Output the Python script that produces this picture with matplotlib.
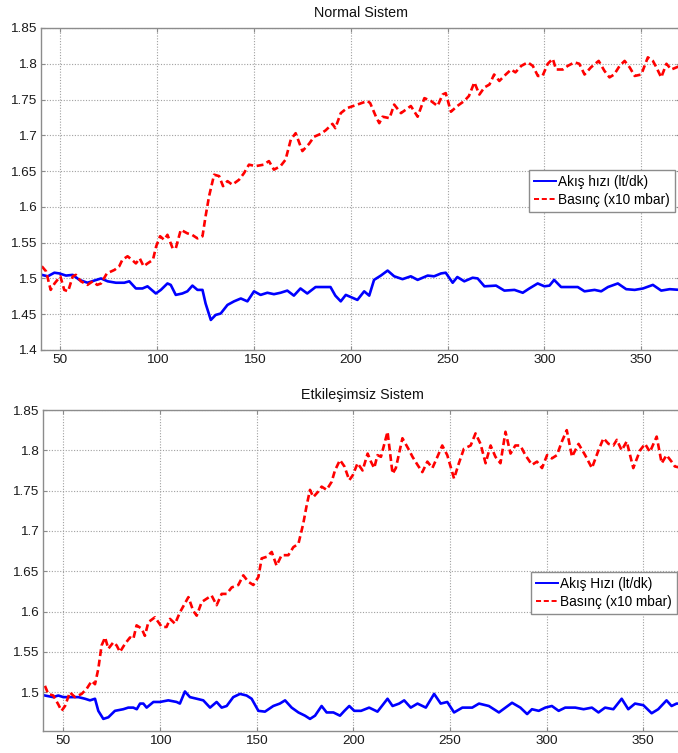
import matplotlib
matplotlib.use("Agg")
import matplotlib.pyplot as plt
from matplotlib.ticker import MultipleLocator, FuncFormatter

plt.rcParams['font.family'] = ['Liberation Sans', 'DejaVu Sans']

# ---- Normal Sistem ----
normal_flow_x = [40.4, 43.5, 46.9, 49.5, 52.9, 56.4, 59.8, 64, 67.5, 71, 74.4, 78.7, 83, 85.6, 89,
                 92.4, 95, 99.3, 101.9, 105.3, 107, 109.6, 113, 115.6, 118.2, 120.8, 123.4, 125,
                 127.7, 130.2, 132.8, 136.3, 139.7, 143.2, 146.6, 150, 153.4, 156.9, 160.3, 163.7,
                 167.2, 170.6, 174, 177.5, 181.8, 185.2, 189.5, 192, 194.8, 197.4, 200, 203.4,
                 206.9, 209.5, 212, 215.5, 219, 222.4, 226.7, 231, 234.5, 239.7, 243, 246.6, 249,
                 252.6, 255, 258.6, 262.9, 265.5, 269, 275, 279.3, 284.5, 288.8, 292.2, 296.5, 300,
                 302.6, 305, 308.6, 313.8, 317.2, 320.7, 325.9, 329.3, 332.8, 337.9, 342.2, 346.6,
                 350.9, 356, 360.3, 364.7, 370]
normal_flow = [1.505, 1.503, 1.508, 1.507, 1.504, 1.505, 1.498, 1.494, 1.497, 1.500, 1.496, 1.494,
               1.494, 1.496, 1.486, 1.486, 1.489, 1.479, 1.484, 1.493, 1.491, 1.477, 1.479, 1.482,
               1.490, 1.484, 1.484, 1.465, 1.442, 1.449, 1.451, 1.463, 1.468, 1.472, 1.468, 1.482,
               1.477, 1.480, 1.478, 1.480, 1.483, 1.476, 1.486, 1.479, 1.488, 1.488, 1.488, 1.476,
               1.468, 1.477, 1.474, 1.470, 1.482, 1.476, 1.498, 1.504, 1.511, 1.503, 1.499, 1.503,
               1.498, 1.504, 1.503, 1.507, 1.508, 1.494, 1.502, 1.496, 1.501, 1.500, 1.489, 1.490,
               1.483, 1.484, 1.480, 1.486, 1.493, 1.489, 1.490, 1.498, 1.488, 1.488, 1.488, 1.482,
               1.484, 1.482, 1.488, 1.493, 1.485, 1.484, 1.486, 1.491, 1.483, 1.485, 1.484]

normal_press_x = [40.4, 42.6, 45, 47, 50, 52, 54, 56.4, 58, 60.6, 64, 66.7, 69, 71, 74, 78, 80.4, 82,
                  84.7, 87, 89, 91, 93, 95, 97.8, 99.5, 101.5, 103.6, 105.3, 108, 109.6, 112.2,
                  115.6, 118, 120.8, 123.4, 125, 126.8, 129.4, 132, 134, 136.3, 138.8, 142.3, 144.8,
                  147.4, 150.9, 155, 157.7, 160.3, 163.7, 166.3, 169, 171.5, 175, 178.4, 181, 184.4,
                  187, 190.5, 192, 194.8, 198, 203.4, 208.6, 210, 213, 214.7, 216.4, 220, 222.4,
                  225.9, 231, 234.5, 238, 241.4, 244.8, 247.4, 249, 251.7, 255, 258.6, 261, 263.8,
                  266.4, 269, 271.6, 274, 276.7, 280, 282.8, 285, 288, 291.4, 294, 296.6, 299,
                  301.7, 304.3, 306, 309.5, 312, 315.5, 318, 320.7, 324, 328, 331, 333.6, 336,
                  338.8, 341.4, 344, 346.6, 350, 353.4, 356, 357.8, 360.3, 363, 365.5, 370]
normal_press = [1.517, 1.510, 1.484, 1.493, 1.503, 1.484, 1.482, 1.503, 1.505, 1.496, 1.491, 1.496,
                1.491, 1.493, 1.507, 1.512, 1.517, 1.526, 1.531, 1.526, 1.521, 1.528, 1.517, 1.521,
                1.526, 1.545, 1.559, 1.554, 1.561, 1.542, 1.542, 1.568, 1.563, 1.561, 1.556, 1.559,
                1.587, 1.615, 1.645, 1.643, 1.629, 1.636, 1.631, 1.638, 1.647, 1.659, 1.657, 1.659,
                1.664, 1.652, 1.657, 1.666, 1.694, 1.703, 1.678, 1.688, 1.698, 1.702, 1.707, 1.716,
                1.710, 1.731, 1.738, 1.743, 1.748, 1.745, 1.726, 1.717, 1.726, 1.724, 1.743, 1.731,
                1.741, 1.726, 1.752, 1.748, 1.741, 1.757, 1.759, 1.733, 1.741, 1.748, 1.755, 1.774,
                1.757, 1.767, 1.771, 1.785, 1.776, 1.785, 1.792, 1.788, 1.797, 1.802, 1.797, 1.783,
                1.783, 1.800, 1.807, 1.792, 1.792, 1.797, 1.802, 1.800, 1.785, 1.795, 1.804, 1.790,
                1.781, 1.785, 1.797, 1.804, 1.795, 1.783, 1.785, 1.809, 1.804, 1.795, 1.781, 1.800,
                1.792, 1.797]

# ---- Etkileşimsiz Sistem ----
ind_flow_x = [40.5, 44.8, 47.4, 50, 53.4, 57.8, 61.2, 63.8, 66.4, 68.1, 70.7, 73.3, 76.7, 81, 83.6,
              86.2, 88, 89.7, 91.4, 93.1, 96.6, 100, 104.3, 108.6, 110.3, 112.9, 115.5, 119, 122.4,
              125.9, 129.3, 131.9, 134.5, 137.9, 141.4, 144.8, 147.4, 150.9, 154.3, 158.6, 162,
              164.7, 168.1, 171.6, 175, 177.6, 180.2, 183.6, 186.2, 189.7, 193.1, 195.4, 197.9,
              200.5, 204, 208.2, 212.5, 217.7, 220.3, 223.7, 226.3, 229.7, 233.2, 237.5, 241.8,
              245.2, 248.6, 252.1, 256.4, 261.5, 265, 270.1, 275.3, 278.7, 282.1, 286.4, 289.9,
              292.4, 295.9, 299.3, 302.7, 306.2, 309.6, 314.8, 319.1, 323.4, 326.8, 330.2, 334.5,
              338.8, 342.2, 345.7, 350, 354.3, 357.7, 362, 364.6, 367.2, 370]
ind_flow = [1.496, 1.494, 1.496, 1.494, 1.494, 1.494, 1.492, 1.490, 1.492, 1.477, 1.467, 1.469,
            1.477, 1.479, 1.481, 1.481, 1.479, 1.486, 1.486, 1.481, 1.488, 1.488, 1.490, 1.488,
            1.486, 1.501, 1.494, 1.492, 1.490, 1.481, 1.488, 1.481, 1.483, 1.494, 1.498, 1.496,
            1.492, 1.477, 1.476, 1.483, 1.486, 1.490, 1.481, 1.475, 1.471, 1.467, 1.471, 1.483,
            1.475, 1.475, 1.471, 1.477, 1.483, 1.477, 1.477, 1.481, 1.476, 1.492, 1.483, 1.486,
            1.490, 1.481, 1.486, 1.481, 1.498, 1.486, 1.488, 1.475, 1.481, 1.481, 1.486, 1.483,
            1.475, 1.481, 1.487, 1.481, 1.473, 1.479, 1.477, 1.481, 1.483, 1.477, 1.481, 1.481,
            1.479, 1.481, 1.475, 1.481, 1.479, 1.492, 1.479, 1.486, 1.484, 1.474, 1.479, 1.490,
            1.483, 1.486, 1.486]

ind_press_x = [40.5, 42.2, 44.8, 47.4, 49.1, 50.9, 53.4, 56, 59.5, 62, 64.7, 66.4, 68.1, 69.8, 71.6,
               73.3, 75.9, 77.6, 79.3, 81.9, 84.5, 86.2, 87.9, 90.5, 92.2, 94, 97.4, 100.9, 103.4,
               105.2, 107.8, 110.3, 114.7, 117.2, 119, 121.6, 124.1, 126.7, 129.3, 131.9, 134.5,
               137.1, 140.5, 143.1, 145.7, 148.3, 150.9, 152.6, 155.2, 157.8, 160.3, 162.9, 166.4,
               169, 171.6, 174.1, 175.9, 177.6, 179.3, 181.9, 183.6, 186.2, 188.8, 190.5, 193.1,
               195.4, 197.9, 199.7, 202.2, 204.8, 207.4, 209.1, 210.8, 212.5, 214.3, 217.7, 220.3,
               222, 225.4, 228.9, 230.6, 233.2, 235.7, 238.3, 240.9, 243.5, 246, 248.6, 252.1,
               254.6, 257.2, 260.7, 263.2, 265.8, 268.4, 271, 273.5, 276.1, 278.7, 281.3, 283.8,
               286.4, 289, 292.4, 295, 297.6, 300.2, 302.7, 305.3, 307.9, 310.4, 313.1, 316.5,
               319.9, 323.4, 326.8, 329.4, 332, 334.5, 336.3, 338.8, 341.4, 344.8, 348.3, 350.9,
               353.4, 356.9, 359.5, 362, 364.6, 366.3, 370]
ind_press = [1.508, 1.498, 1.496, 1.485, 1.477, 1.483, 1.500, 1.494, 1.498, 1.504, 1.514, 1.510,
             1.529, 1.558, 1.568, 1.554, 1.562, 1.558, 1.550, 1.560, 1.568, 1.566, 1.583, 1.579,
             1.570, 1.587, 1.593, 1.581, 1.581, 1.591, 1.585, 1.599, 1.618, 1.601, 1.595, 1.612,
             1.616, 1.620, 1.608, 1.622, 1.622, 1.630, 1.633, 1.645, 1.637, 1.633, 1.643, 1.666,
             1.668, 1.674, 1.657, 1.670, 1.670, 1.680, 1.684, 1.709, 1.732, 1.751, 1.742, 1.749,
             1.755, 1.751, 1.761, 1.775, 1.788, 1.780, 1.763, 1.769, 1.784, 1.775, 1.796, 1.786,
             1.778, 1.794, 1.792, 1.823, 1.771, 1.778, 1.815, 1.800, 1.792, 1.782, 1.773, 1.786,
             1.778, 1.792, 1.806, 1.794, 1.765, 1.784, 1.802, 1.806, 1.821, 1.808, 1.784, 1.806,
             1.792, 1.784, 1.823, 1.796, 1.806, 1.806, 1.794, 1.782, 1.786, 1.778, 1.794, 1.790,
             1.794, 1.811, 1.825, 1.792, 1.808, 1.794, 1.778, 1.800, 1.815, 1.808, 1.806, 1.813,
             1.800, 1.811, 1.778, 1.800, 1.808, 1.798, 1.817, 1.784, 1.794, 1.786, 1.780, 1.778]

x_ticks = [50, 100, 150, 200, 250, 300, 350]

W, H = 678, 753
fig = plt.figure(figsize=(W / 100, H / 100), dpi=100)


def px_axes(left, top, right, bottom):
    return fig.add_axes([left / W, 1 - bottom / H, (right - left) / W, (bottom - top) / H])


def ytick_fmt(v, pos):
    return f"{round(v, 3):g}"


def style(ax, xlim, ylim, title):
    ax.set_xlim(*xlim)
    ax.set_ylim(*ylim)
    ax.set_xticks(x_ticks)
    ax.yaxis.set_major_locator(MultipleLocator(0.05))
    ax.yaxis.set_major_formatter(FuncFormatter(ytick_fmt))
    ax.grid(True, linestyle=(0, (1, 1.5)), color='#a0a0a0', linewidth=0.8)
    ax.set_axisbelow(True)
    for s in ax.spines.values():
        s.set_color('#8c8c8c')
        s.set_linewidth(1.0)
    ax.tick_params(direction='in', length=3, color='#8c8c8c', labelsize=9.7,
                   labelcolor='#1a1a1a', top=True, right=True, pad=3)
    ax.set_title(title, fontsize=10.3, pad=8, color='#111111')


LW = 1.9
DASH = (0, (2.6, 1.4))

ax1 = px_axes(41, 28, 680, 350)
ax1.plot(normal_flow_x, normal_flow, color='#0000ff', lw=LW, label='Akış hızı (lt/dk)')
ax1.plot(normal_press_x, normal_press, color='#ff0000', lw=LW, linestyle=DASH,
         label='Basınç (x10 mbar)')
style(ax1, (40, 370), (1.4, 1.85), 'Normal Sistem')

ax2 = px_axes(43, 410, 682, 731)
ax2.plot(ind_flow_x, ind_flow, color='#0000ff', lw=LW, label='Akış Hızı (lt/dk)')
ax2.plot(ind_press_x, ind_press, color='#ff0000', lw=LW, linestyle=DASH,
         label='Basınç (x10 mbar)')
style(ax2, (39.5, 370), (1.452, 1.85), 'Etkileşimsiz Sistem')

for ax, (rx, ty) in ((ax1, (675, 170)), (ax2, (677, 572))):
    leg = ax.legend(loc='upper right', bbox_to_anchor=(rx / W, 1 - ty / H),
                    bbox_transform=fig.transFigure, fontsize=9.8, frameon=True,
                    fancybox=False, framealpha=1, edgecolor='#8c8c8c',
                    handlelength=1.6, handletextpad=0.2, borderpad=0.35,
                    labelspacing=0.3, borderaxespad=0)
    leg.get_frame().set_linewidth(1.0)
    for line in leg.get_lines():
        line.set_linewidth(1.4)

fig.savefig('out.png', dpi=100, facecolor='white')
